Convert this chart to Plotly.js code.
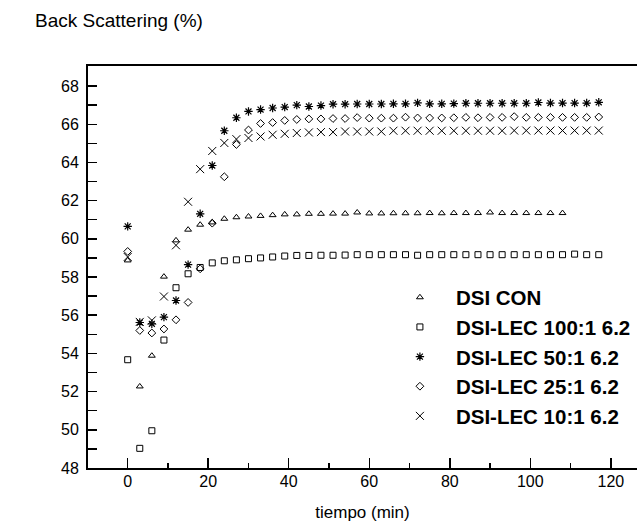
<!DOCTYPE html>
<html>
<head>
<meta charset="utf-8">
<script src="https://cdn.plot.ly/plotly-3.0.1.min.js"></script>
<style>html,body{margin:0;padding:0;background:#fff}#chart{width:637px;height:529px}</style>
</head>
<body>
<div id="chart"></div>
<script>
// tiempo (min)
var timeLong = [0, 3, 6, 9, 12, 15, 18, 21, 24, 27, 30, 33, 36, 39, 42, 45, 48, 51, 54, 57, 60, 63, 66, 69, 72, 75, 78, 81, 84, 87, 90, 93, 96, 99, 102, 105, 108, 111, 114, 117];
var timeCon = [0, 3, 6, 9, 12, 15, 18, 21, 24, 27, 30, 33, 36, 39, 42, 45, 48, 51, 54, 57, 60, 63, 66, 69, 72, 75, 78, 81, 84, 87, 90, 93, 96, 99, 102, 105, 108];

var seriesNames = ["DSI CON", "DSI-LEC 100:1 6.2", "DSI-LEC 50:1 6.2", "DSI-LEC 25:1 6.2", "DSI-LEC 10:1 6.2"];

var dsiCon = [58.87, 52.27, 53.88, 58.02, 59.92, 60.48, 60.74, 60.86, 61.05, 61.13, 61.17, 61.20, 61.24,
  61.28, 61.28, 61.31, 61.31, 61.32, 61.32, 61.38, 61.33, 61.33, 61.34, 61.34, 61.34, 61.35, 61.34,
  61.35, 61.35, 61.35, 61.38, 61.35, 61.35, 61.35, 61.35, 61.35, 61.35];
var lec100 = [53.67, 49.03, 49.95, 54.70, 57.44, 58.17, 58.50, 58.74, 58.85, 58.90, 58.96, 59.00, 59.05,
  59.10, 59.13, 59.13, 59.14, 59.14, 59.15, 59.17, 59.17, 59.17, 59.17, 59.17, 59.14, 59.17, 59.17,
  59.17, 59.17, 59.17, 59.17, 59.17, 59.17, 59.17, 59.17, 59.17, 59.17, 59.20, 59.17, 59.17];
var lec50 = [60.65, 55.62, 55.55, 55.90, 56.77, 58.65, 61.31, 63.84, 65.66, 66.34, 66.67, 66.77, 66.85,
  66.90, 67.00, 66.93, 66.98, 67.05, 67.05, 67.06, 67.06, 67.06, 67.07, 67.07, 67.12, 67.07, 67.07,
  67.08, 67.10, 67.10, 67.10, 67.10, 67.10, 67.10, 67.14, 67.11, 67.11, 67.11, 67.11, 67.15];
var lec25 = [59.34, 55.20, 55.07, 55.28, 55.76, 56.67, 58.43, 60.82, 63.25, 64.94, 65.70, 66.04, 66.09,
  66.20, 66.25, 66.28, 66.28, 66.30, 66.30, 66.35, 66.32, 66.32, 66.32, 66.37, 66.33, 66.33, 66.33,
  66.34, 66.36, 66.34, 66.36, 66.36, 66.40, 66.36, 66.36, 66.36, 66.36, 66.36, 66.36, 66.38];
var lec10 = [59.05, 55.65, 55.73, 56.98, 59.66, 61.94, 63.65, 64.60, 65.02, 65.22, 65.28, 65.36, 65.45,
  65.50, 65.54, 65.57, 65.59, 65.59, 65.62, 65.62, 65.62, 65.62, 65.66, 65.66, 65.66, 65.66, 65.66,
  65.66, 65.66, 65.66, 65.66, 65.66, 65.67, 65.67, 65.67, 65.67, 65.67, 65.67, 65.67, 65.67];

var xTickVals = [0, 20, 40, 60, 80, 100, 120];
var yTickVals = [48, 50, 52, 54, 56, 58, 60, 62, 64, 66, 68];

var FONT = "Liberation Sans, Arial, sans-serif";

function mk(x, y, name, symbol, size, lw) {
  return {
    type: "scatter", mode: "markers", x: x, y: y, name: name,
    marker: {symbol: symbol, size: size, color: "#000", line: {color: "#000", width: lw}},
    hoverinfo: "x+y+name"
  };
}

var data = [
  mk(timeCon, dsiCon, seriesNames[0], "triangle-up-open", 6, 1),
  mk(timeLong, lec100, seriesNames[1], "square-open", 6, 1),
  mk(timeLong, lec50, seriesNames[2], "asterisk-open", 7, 1.2),
  mk(timeLong, lec25, seriesNames[3], "diamond-open", 6, 1),
  mk(timeLong, lec10, seriesNames[4], "x-thin-open", 8, 1)
];

var layout = {
  width: 637, height: 529,
  margin: {l: 88, r: 0, t: 66, b: 61, autoexpand: false},
  paper_bgcolor: "#fff", plot_bgcolor: "#fff",
  font: {family: FONT, size: 16, color: "#000"},
  showlegend: true,
  legend: {
    x: 0.539, y: 0.474, xanchor: "left", yanchor: "top",
    bgcolor: "rgba(0,0,0,0)", borderwidth: 0, itemwidth: 62,
    font: {family: FONT, size: 20.5, color: "#000", weight: "bold"}
  },
  xaxis: {
    range: [-9.86, 126.5], tickvals: xTickVals, ticktext: xTickVals.map(String),
    ticks: "inside", ticklen: 10, tickwidth: 1.5, tickcolor: "#000",
    minor: {dtick: 10, tick0: 0, ticks: "inside", ticklen: 5, tickwidth: 1.5, tickcolor: "#000", showgrid: false},
    showline: true, linewidth: 2, linecolor: "#000", mirror: true,
    showgrid: false, zeroline: false,
    tickfont: {family: FONT, size: 16, color: "#000"},
    ticklabelstandoff: -2,
    title: {text: "tiempo (min)", font: {family: FONT, size: 17, color: "#000"}, standoff: 17}
  },
  yaxis: {
    range: [48, 69.05], tickvals: yTickVals, ticktext: yTickVals.map(String),
    ticks: "inside", ticklen: 9, tickwidth: 1.5, tickcolor: "#000",
    minor: {dtick: 1, tick0: 48, ticks: "inside", ticklen: 9, tickwidth: 1.5, tickcolor: "#000", showgrid: false},
    showline: true, linewidth: 2, linecolor: "#000", mirror: false,
    showgrid: false, zeroline: false,
    tickfont: {family: FONT, size: 16, color: "#000"},
    ticklabelstandoff: 4
  },
  annotations: [{
    text: "Back Scattering (%)", xref: "paper", yref: "paper",
    x: -0.1002, y: 1.1144, xanchor: "left", yanchor: "middle", showarrow: false,
    font: {family: FONT, size: 19, color: "#000"}
  }]
};

Plotly.newPlot("chart", data, layout, {displayModeBar: false, staticPlot: true});
</script>
</body>
</html>
